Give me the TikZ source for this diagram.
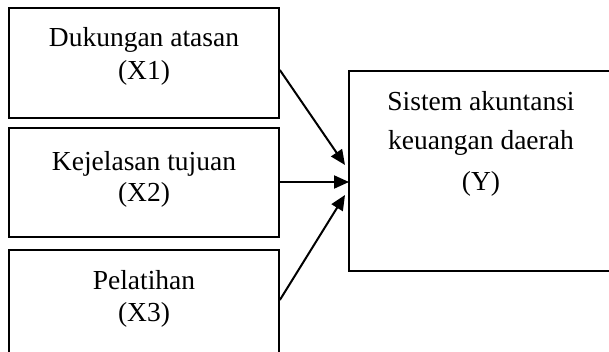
\documentclass[tikz,border=0pt]{standalone}
\usepackage{fontspec}
\setmainfont{Liberation Serif}
\usetikzlibrary{arrows.meta}
\tikzset{
  varbox/.style={draw, line width=1.7pt, inner sep=0pt},
  label line/.style={anchor=base, inner sep=0pt, font=\fontsize{27.5}{33}\selectfont},
  link/.style={line width=2pt, -{Triangle[length=15pt,width=13pt]}}
}
\begin{document}
\begin{tikzpicture}[x=1pt,y=1pt]
  \useasboundingbox (0,0) rectangle (609,351);
  \clip (0,0) rectangle (609,351);
  % independent variables
  \node[varbox, minimum width=270pt, minimum height=110pt] (x1) at (144,288) {};
  \node[varbox, minimum width=270pt, minimum height=109pt] (x2) at (144,168.5) {};
  \node[varbox, minimum width=270pt, minimum height=110pt] (x3) at (144,46) {};
  \node[label line] (x1a) at (144,304.3) {Dukungan atasan};
  \node[label line] (x1b) at (144,271) {(X1)};
  \node[label line] (x2a) at (144,181) {Kejelasan tujuan};
  \node[label line] (x2b) at (144,149.3) {(X2)};
  \node[label line] (x3a) at (144,62) {Pelatihan};
  \node[label line] (x3b) at (144,29.3) {(X3)};
  % dependent variable
  \node[varbox, minimum width=275pt, minimum height=200pt] (y) at (486.5,180) {};
  \node[label line] (ya) at (481,240) {Sistem akuntansi};
  \node[label line] (yb) at (481,201) {keuangan daerah};
  \node[label line] (yc) at (481,161) {(Y)};
  % arrows into the dependent variable
  \coordinate (t1) at (345,186);
  \coordinate (t2) at (349,169);
  \coordinate (t3) at (345,156);
  \draw[link] ([yshift=-7pt]x1.east) -- (t1);
  \draw[link] (x2.east |- t2) -- (t2);
  \draw[link] ([yshift=5pt]x3.east) -- (t3);
\end{tikzpicture}
\end{document}
